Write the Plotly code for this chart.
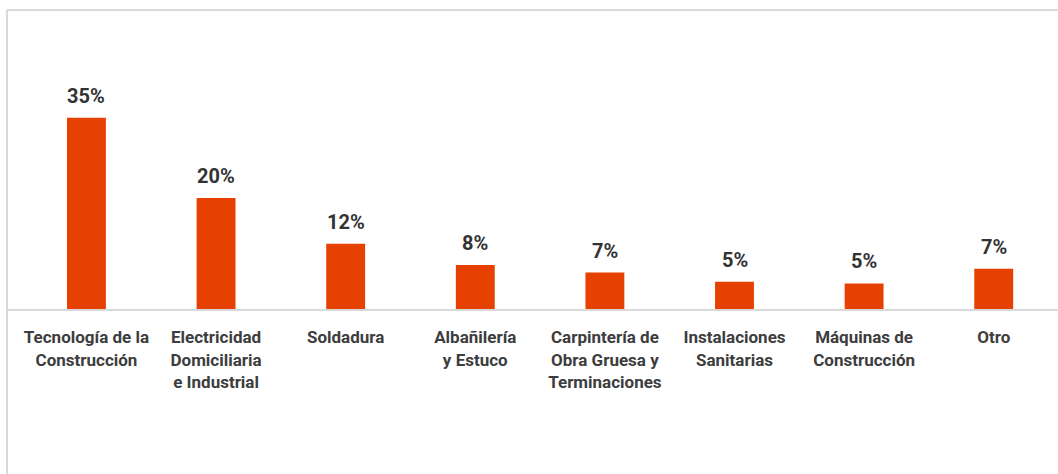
import plotly.graph_objects as go

# categories (tick labels) and share of each
categories = [
    "Tecnología de la<br>Construcción",
    "Electricidad<br>Domiciliaria<br>e Industrial",
    "Soldadura",
    "Albañilería<br>y Estuco",
    "Carpintería de<br>Obra Gruesa y<br>Terminaciones",
    "Instalaciones<br>Sanitarias",
    "Máquinas de<br>Construcción",
    "Otro",
]
shares = [35.2, 20.4, 12.0, 8.1, 6.7, 5.0, 4.7, 7.4]

bar_color = "#E64100"
frame_color = "#D9D9D9"

fig = go.Figure()

fig.add_trace(go.Bar(
    x=categories,
    y=shares,
    marker=dict(color=bar_color, line=dict(width=0)),
    width=0.3,
    hoverinfo="skip",
    showlegend=False,
))

# value labels above each bar
for cat, val in zip(categories, shares):
    fig.add_annotation(
        x=cat, y=val,
        text=f"{round(val)}%",
        showarrow=False,
        yanchor="bottom",
        yshift=8,
        font=dict(family="Roboto", size=20, color="#333333", weight="bold"),
    )

# light frame around the chart (top and left edges visible)
fig.add_shape(type="line", xref="paper", yref="paper",
              x0=0, x1=1.05, y0=1, y1=1,
              line=dict(color=frame_color, width=2))
fig.add_shape(type="line", xref="paper", yref="paper",
              x0=0, x1=0, y0=1, y1=-1,
              line=dict(color=frame_color, width=2))

fig.update_layout(
    width=1058, height=474,
    paper_bgcolor="white",
    plot_bgcolor="white",
    margin=dict(l=7, r=0, t=10, b=165),
    font=dict(family="Roboto", color="#404040"),
)

fig.update_xaxes(
    range=[-0.613, 7.496],
    showline=True, linecolor=frame_color, linewidth=2,
    showgrid=False, ticks="",
    tickfont=dict(family="Roboto", size=17, color="#3d3d3d", weight="bold"),
    tickangle=0,
    ticklabelstandoff=12,
)
fig.update_yaxes(
    range=[0, 55],
    visible=False,
    showgrid=False, zeroline=False,
)

fig.write_html("out.html", config={"displayModeBar": False},
               post_script="document.body.style.margin='0';")
